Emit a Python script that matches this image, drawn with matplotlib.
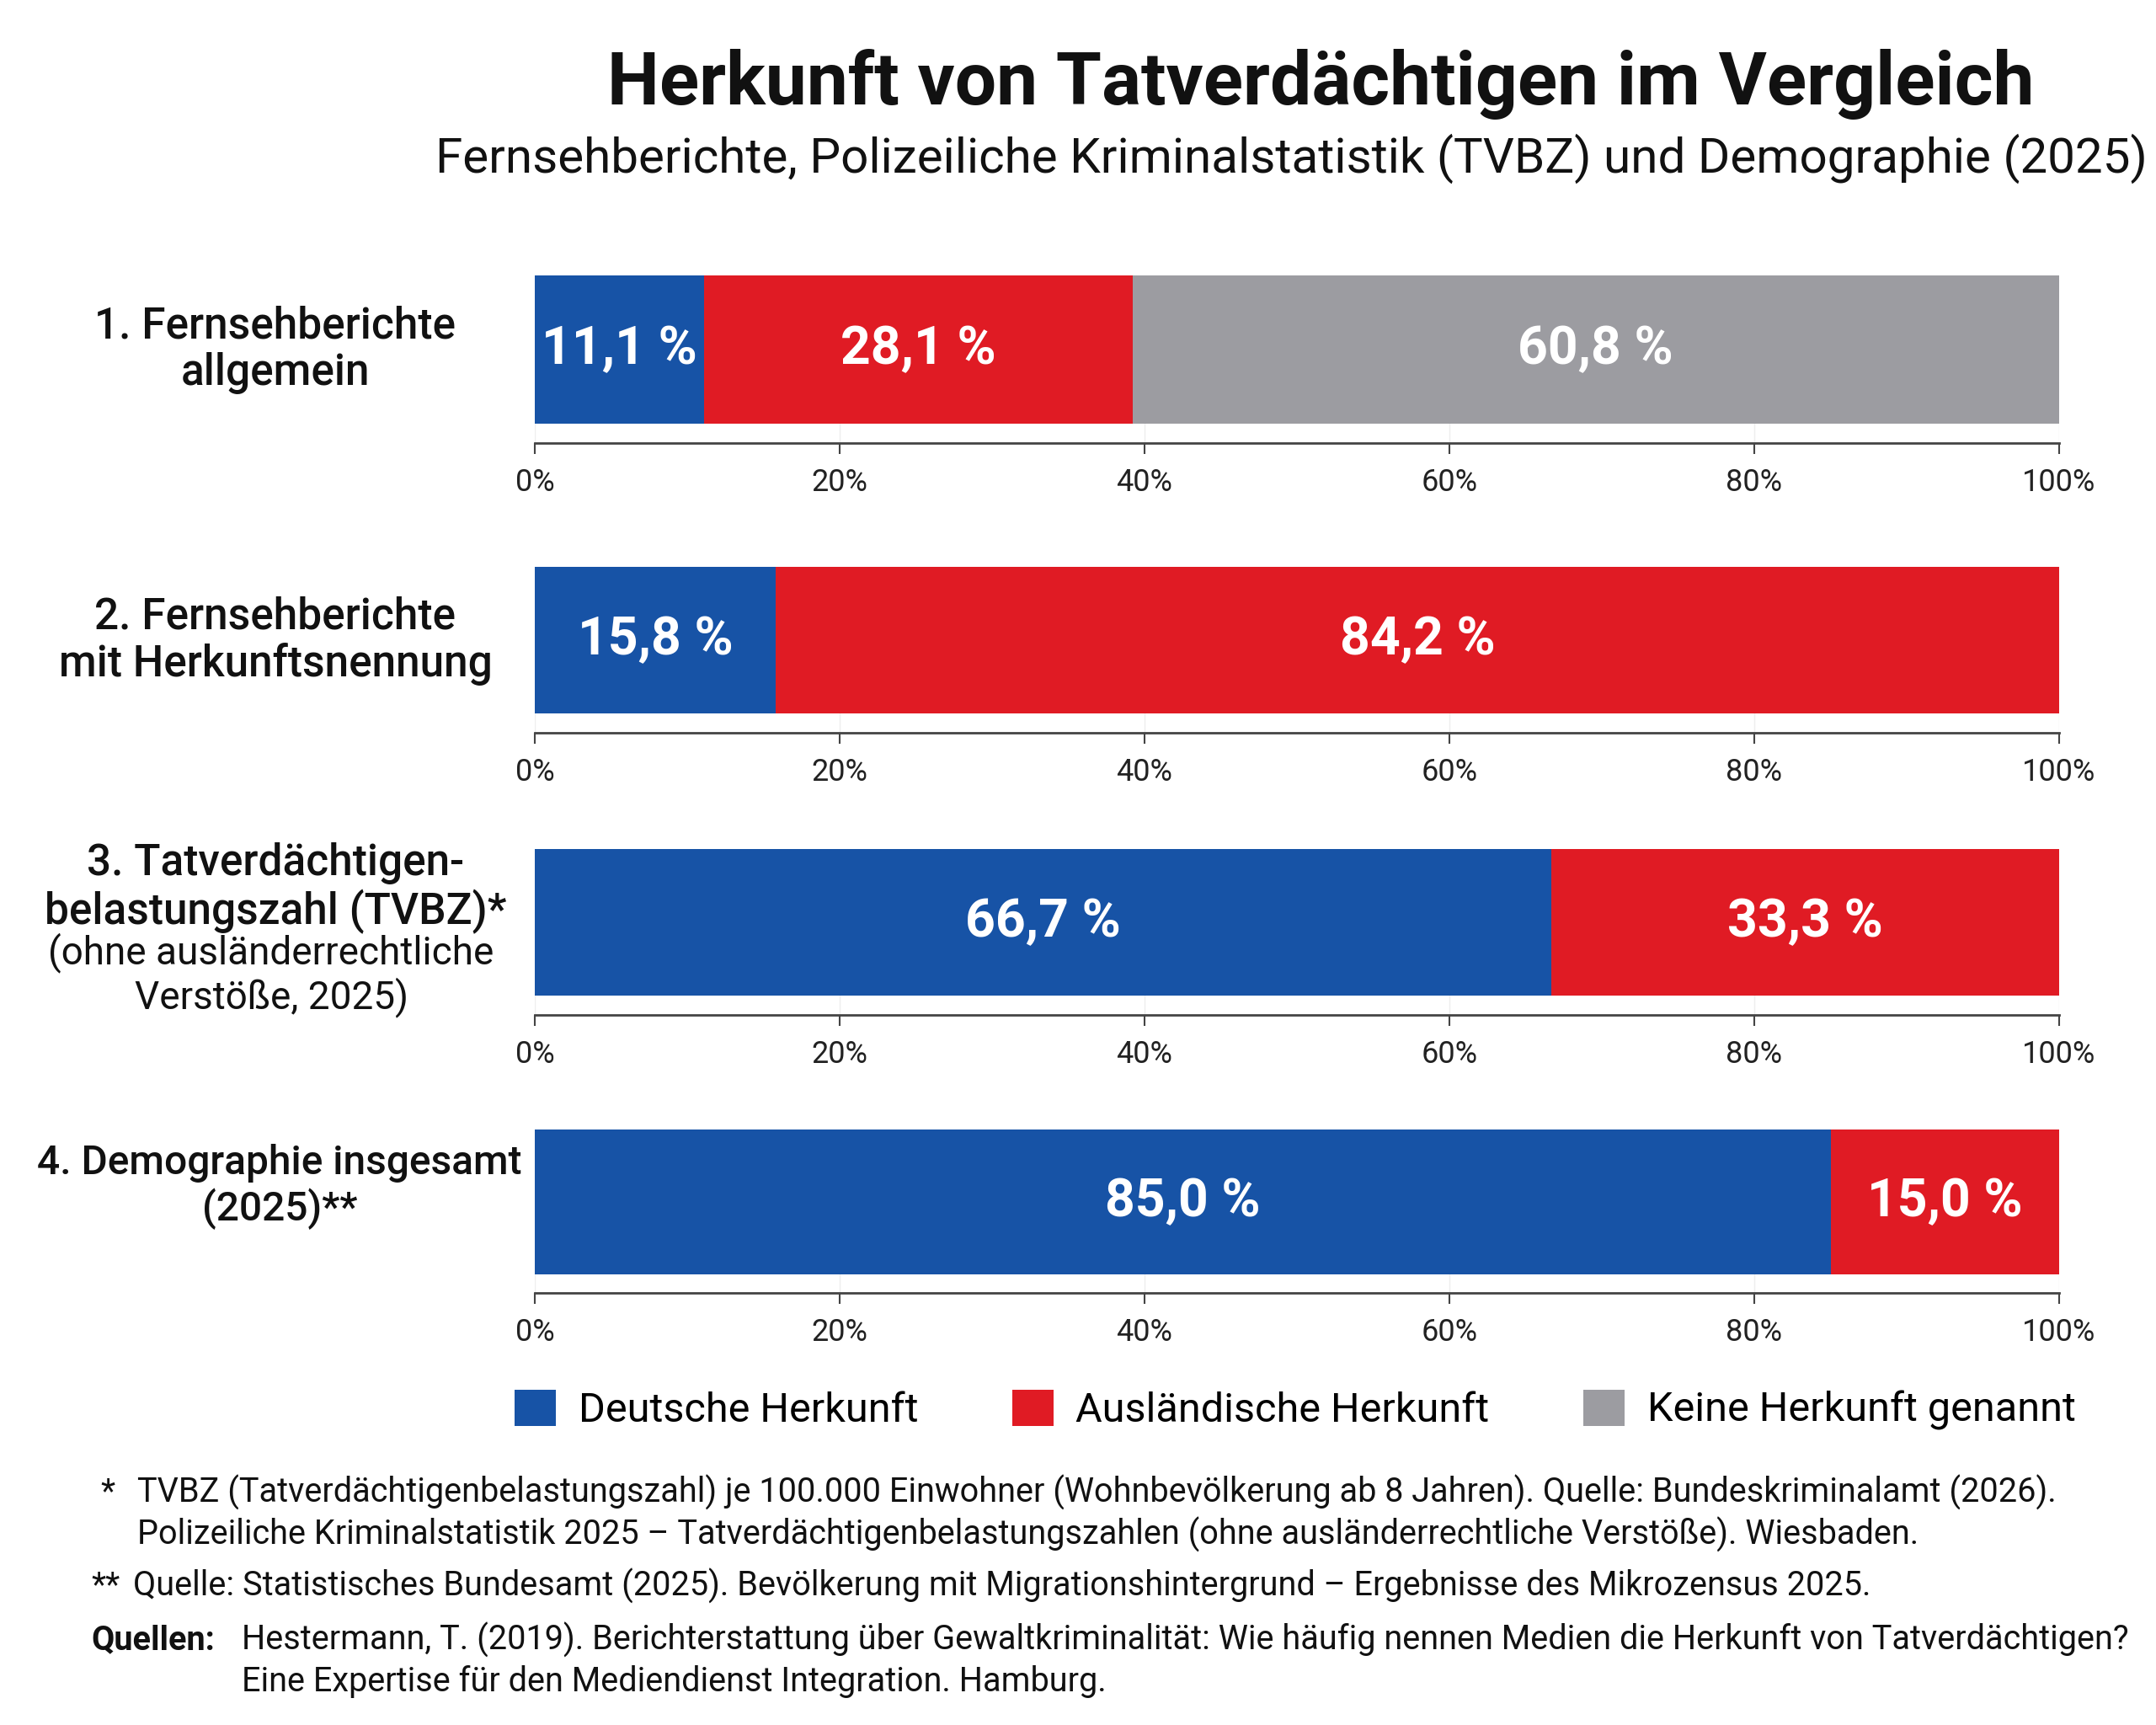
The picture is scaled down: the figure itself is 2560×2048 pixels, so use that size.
import matplotlib
matplotlib.use("Agg")
import matplotlib.pyplot as plt
from matplotlib.patches import Patch

plt.rcParams['font.family'] = ['Roboto', 'DejaVu Sans']

# data
categories = [
    "1. Fernsehberichte\nallgemein",
    "2. Fernsehberichte\nmit Herkunftsnennung",
    "3. Tatverdächtigen-\nbelastungszahl (TVBZ)*",
    "4. Demographie insgesamt\n(2025)**",
]
category_notes = ["", "", "(ohne ausländerrechtliche\nVerstöße, 2025)", ""]
deutsch = [11.1, 15.8, 66.7, 85.0]
auslaendisch = [28.1, 84.2, 33.3, 15.0]
keine = [60.8, 0.0, 0.0, 0.0]
series_names = ["Deutsche Herkunft", "Ausländische Herkunft", "Keine Herkunft genannt"]
ticks = [0, 20, 40, 60, 80, 100]
tick_labels = ["0%", "20%", "40%", "60%", "80%", "100%"]

BLUE = "#1753a6"
RED = "#e01b24"
GRAY = "#9c9ca1"
colors = [BLUE, RED, GRAY]

title = "Herkunft von Tatverdächtigen im Vergleich"
subtitle = "Fernsehberichte, Polizeiliche Kriminalstatistik (TVBZ) und Demographie (2025)"
foot_marks = ["*", "", "**", "Quellen:", ""]
foot_lines = [
    "TVBZ (Tatverdächtigenbelastungszahl) je 100.000 Einwohner (Wohnbevölkerung ab 8 Jahren). Quelle: Bundeskriminalamt (2026).",
    "Polizeiliche Kriminalstatistik 2025 – Tatverdächtigenbelastungszahlen (ohne ausländerrechtliche Verstöße). Wiesbaden.",
    "Quelle: Statistisches Bundesamt (2025). Bevölkerung mit Migrationshintergrund – Ergebnisse des Mikrozensus 2025.",
    "Hestermann, T. (2019). Berichterstattung über Gewaltkriminalität: Wie häufig nennen Medien die Herkunft von Tatverdächtigen?",
    "Eine Expertise für den Mediendienst Integration. Hamburg.",
]

W, H = 2560, 2048
fig = plt.figure(figsize=(W / 100, H / 100), dpi=100)
fig.patch.set_facecolor("white")

def fx(px):
    return px / W

def fy(py):
    return 1 - py / H

fig.text(fx(1568), fy(100), title, ha="center", va="center", fontsize=63, fontweight="bold", color="#111111")
fig.text(fx(1533), fy(188), subtitle, ha="center", va="center", fontsize=42, color="#111111")

# axes placement (top of bar, axis line) in pixels
rows = [(327, 526), (673, 870), (1008, 1205), (1341, 1535)]
x0, x1 = 635, 2445
gap = 0.13
label_size = [37, 37, 37, 34.5]

for i, (top, base) in enumerate(rows):
    ax = fig.add_axes([fx(x0), fy(base), fx(x1) - fx(x0), (base - top) / H])
    left = 0
    vals = [deutsch[i], auslaendisch[i], keine[i]]
    for v, c in zip(vals, colors):
        if v <= 0:
            continue
        ax.barh(0, v, left=left, height=1.0, color=c, edgecolor="none", zorder=2)
        ax.text(left + v / 2, 0, f"{v:.1f} %".replace(".", ","), ha="center", va="center",
                color="white", fontsize=45, fontweight="bold", zorder=3)
        left += v
    ax.set_xlim(0, 100)
    ax.set_ylim(-0.5 - gap, 0.5)
    ax.set_yticks([])
    ax.set_xticks(ticks)
    ax.set_xticklabels(tick_labels)
    ax.tick_params(axis="x", length=9, width=1.5, color="#444444", labelsize=26, pad=12, labelcolor="#222222")
    for s in ["top", "right", "left"]:
        ax.spines[s].set_visible(False)
    ax.spines["bottom"].set_color("#444444")
    ax.spines["bottom"].set_linewidth(2)
    ax.grid(axis="x", color="#eeeeee", linewidth=1, zorder=0)
    ax.set_facecolor("none")

    # category label
    if category_notes[i]:
        fig.text(fx(327), fy(top - 8), categories[i], ha="center", va="top", fontsize=label_size[i],
                 fontweight="medium", linespacing=1.15, color="#111111")
        fig.text(fx(322), fy(top + 99), category_notes[i], ha="center", va="top", fontsize=33,
                 fontweight="normal", linespacing=1.15, color="#111111")
    else:
        off = 20 if i == 3 else 0
        cx = 332 if i == 3 else 327
        fig.text(fx(cx), fy(top + 88 - off), categories[i], ha="center", va="center", fontsize=label_size[i],
                 fontweight="medium", linespacing=1.15, color="#111111")

handles = [Patch(facecolor=c, edgecolor="none") for c in colors]
fig.legend(handles, series_names, loc="center", bbox_to_anchor=(fx(1538), fy(1674)), ncol=3,
           frameon=False, fontsize=35, handlelength=1.0, handleheight=1.0,
           handletextpad=0.55, columnspacing=2.3)

# footnotes
foot_y = [1772, 1822, 1883, 1947, 1996]
foot_x = [163, 163, 158, 287, 287]
mark_x = [119, 0, 108, 108, 0]
for mk, line, x, mx, y in zip(foot_marks, foot_lines, foot_x, mark_x, foot_y):
    if mk:
        fig.text(fx(mx), fy(y), mk, ha="left", va="center", fontsize=28.5,
                 fontweight="bold" if mk == "Quellen:" else "normal", color="#111111")
    fig.text(fx(x), fy(y), line, ha="left", va="center", fontsize=28.5, color="#111111")

fig.savefig("out.png", dpi=100, facecolor="white")
